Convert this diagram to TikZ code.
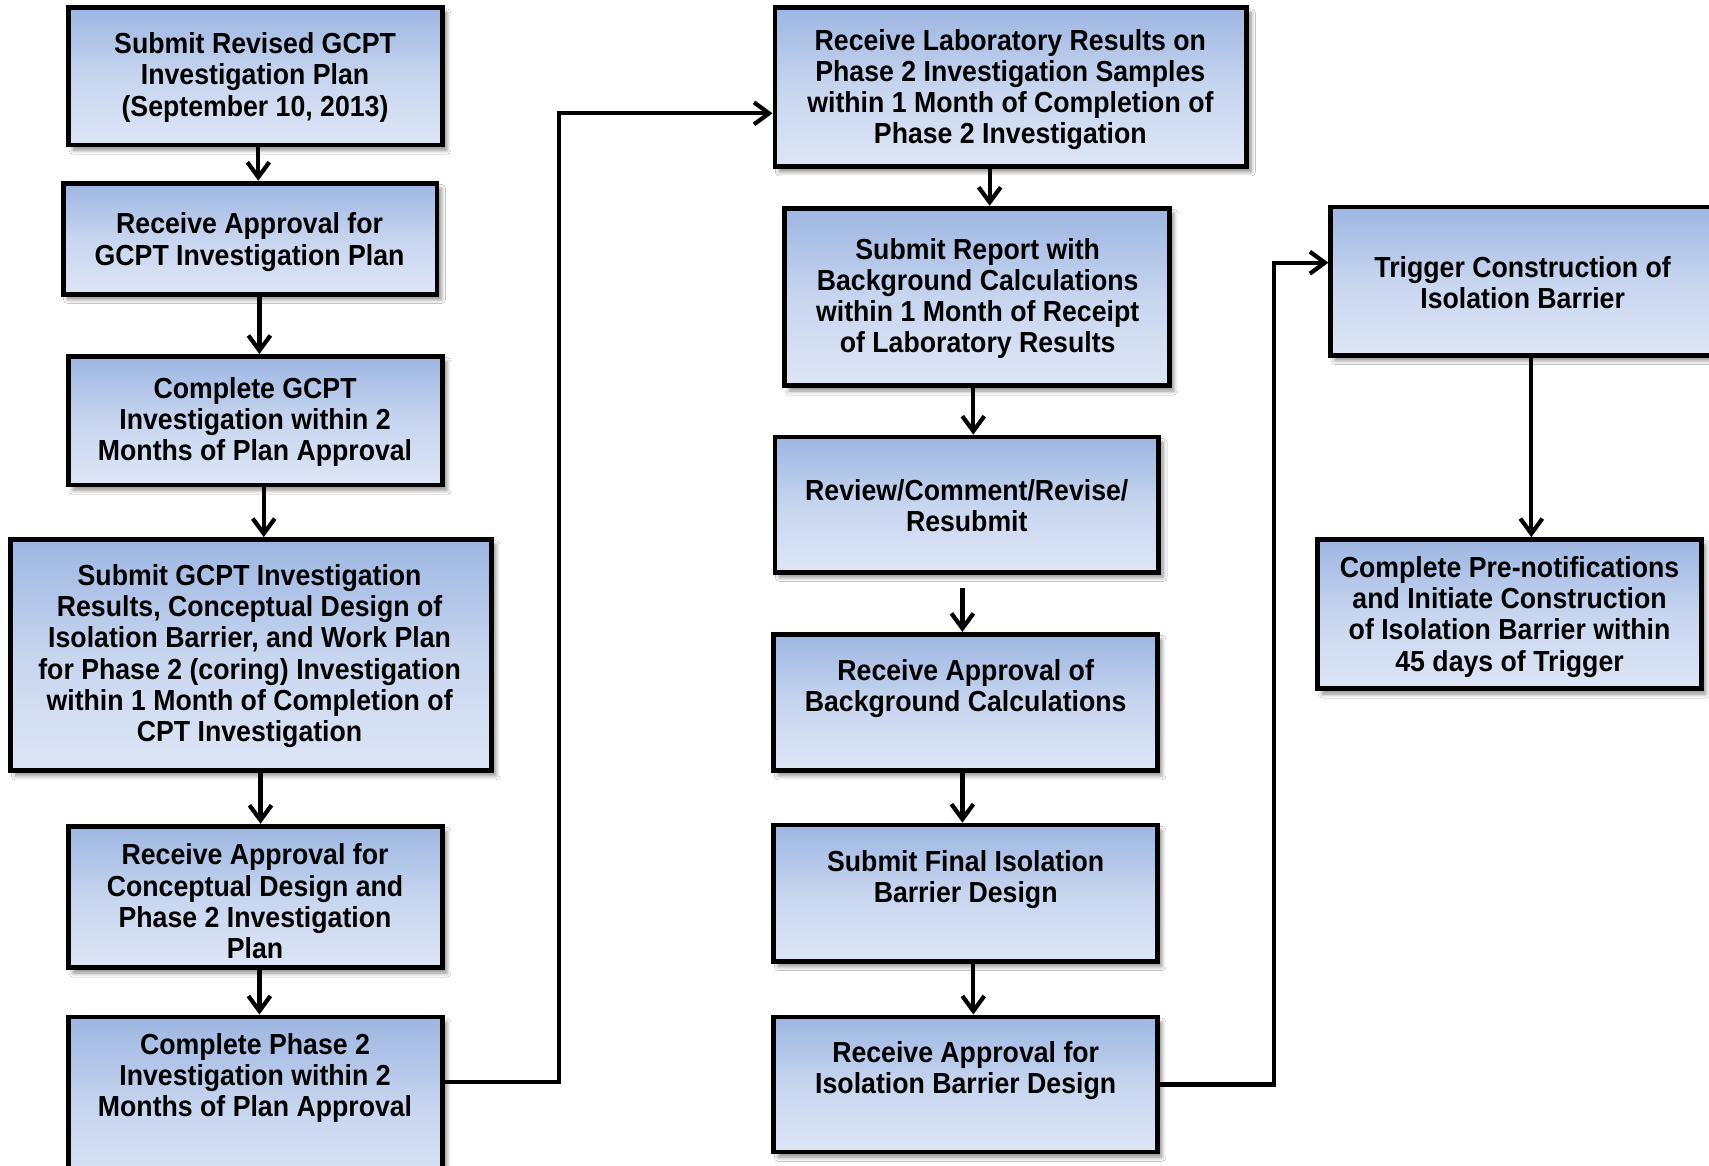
\documentclass[tikz,border=0pt]{standalone}
\usepackage{fontspec}
\newfontfamily\boxfont{Liberation Sans}[FakeStretch=0.92]
\usetikzlibrary{arrows.meta,shadows.blur}
\def\unitpx{0.545pt}
\definecolor{boxtop}{RGB}{157,182,226}
\definecolor{boxmid}{RGB}{199,213,239}
\definecolor{boxbot}{RGB}{222,230,245}
\begin{document}
\begin{tikzpicture}[x=0.545pt,y=-0.545pt,
  box/.style 2 args={draw=black, line width=2.4pt, rectangle, inner sep=0pt,
    minimum width=#1*\unitpx, minimum height=#2*\unitpx,
    top color=boxtop, bottom color=boxbot, middle color=boxmid,
    blur shadow={shadow xshift=2.2pt, shadow yshift=-2.6pt, shadow blur radius=2pt, shadow blur steps=6, shadow opacity=45}},
  txt/.style={align=center, inner sep=0pt, font=\boxfont\bfseries\fontsize{14.5}{15.6}\selectfont},
  arr/.style={line width=2.1pt, -{Straight Barb[length=7.5pt,width=11pt,line width=2.1pt]}}]
\clip (0,0) rectangle (1568,1069);
\fill[white] (0,0) rectangle (1568,1069);
% left column
\node[box={343}{126}] (b1) at (234.5,70) {};
\node[box={343}{102}] (b2) at (229.5,219) {};
\node[box={343}{118}] (b3) at (234.5,386) {};
\node[box={441}{212}] (b4) at (230.5,601) {};
\node[box={343}{130}] (b5) at (234.5,823) {};
\node[box={343}{167}] (b6) at (234.5,1016.5) {};
% middle column
\node[box={433}{146}] (m1) at (927.5,80) {};
\node[box={353}{163}] (m2) at (896.5,272.5) {};
\node[box={352}{124}] (m3) at (887,463) {};
\node[box={352}{125}] (m4) at (886,644.5) {};
\node[box={352}{125}] (m5) at (886,819.5) {};
\node[box={352}{124}] (m6) at (886,995) {};
% right column
\node[box={352}{136}] (r1) at (1397,258) {};
\node[box={352}{137}] (r2) at (1385,563.5) {};
% texts
\node[txt] (tb1) at (234,71) {Submit Revised GCPT\\Investigation Plan\\(September 10, 2013)};
\node[txt] (tb2) at (229,222) {Receive Approval for\\GCPT Investigation Plan};
\node[txt] (tb3) at (234,387) {Complete GCPT\\Investigation within 2\\Months of Plan Approval};
\node[txt] (tb4) at (229,602) {Submit GCPT Investigation\\Results, Conceptual Design of\\Isolation Barrier, and Work Plan\\for Phase 2 (coring) Investigation\\within 1 Month of Completion of\\CPT Investigation};
\node[txt] (tb5) at (234,827) {Receive Approval for\\Conceptual Design and\\Phase 2 Investigation\\Plan};
\node[txt] (tb6) at (234,989) {Complete Phase 2\\Investigation within 2\\Months of Plan Approval};
\node[txt] (tm1) at (927,82) {Receive Laboratory Results on\\Phase 2 Investigation Samples\\within 1 Month of Completion of\\Phase 2 Investigation};
\node[txt] (tm2) at (897,274) {Submit Report with\\Background Calculations\\within 1 Month of Receipt\\of Laboratory Results};
\node[txt] (tm3) at (887,464) {Review/Comment/Revise/\\Resubmit};
\node[txt] (tm4) at (886,632) {Receive Approval of\\Background Calculations};
\node[txt] (tm5) at (886,807) {Submit Final Isolation\\Barrier Design};
\node[txt] (tm6) at (886,982) {Receive Approval for\\Isolation Barrier Design};
\node[txt] (tr1) at (1397,259) {Trigger Construction of\\Isolation Barrier};
\node[txt] (tr2) at (1385,566) {Complete Pre-notifications\\and Initiate Construction\\of Isolation Barrier within\\45 days of Trigger};
% connectors
\draw[arr] ([xshift=2.5*\unitpx]b1.south) -- ([xshift=2.5*\unitpx]b1.south |- b2.north);
\draw[arr] ([xshift=8.5*\unitpx]b2.south) -- ([xshift=8.5*\unitpx]b2.south |- b3.north);
\draw[arr] ([xshift=7.5*\unitpx]b3.south) -- ([xshift=7.5*\unitpx]b3.south |- b4.north);
\draw[arr] ([xshift=8.5*\unitpx]b4.south) -- ([xshift=8.5*\unitpx]b4.south |- b5.north);
\draw[arr] ([xshift=3.5*\unitpx]b5.south) -- ([xshift=3.5*\unitpx]b5.south |- b6.north);
\coordinate (j1) at (513,104);
\draw[arr] ([yshift=23.5*\unitpx]b6.east) -| (j1) -- (j1 -| m1.west);
\draw[arr] ([xshift=-19.5*\unitpx]m1.south) -- ([xshift=-19.5*\unitpx]m1.south |- m2.north);
\draw[arr] ([xshift=-3.5*\unitpx]m2.south) -- ([xshift=-3.5*\unitpx]m2.south |- m3.north);
\draw[arr] ([xshift=-4*\unitpx,yshift=-12*\unitpx]m3.south) -- ([xshift=-4*\unitpx]m3.south |- m4.north);
\draw[arr] ([xshift=-3*\unitpx]m4.south) -- ([xshift=-3*\unitpx]m4.south |- m5.north);
\draw[arr] ([xshift=7*\unitpx]m5.south) -- ([xshift=7*\unitpx]m5.south |- m6.north);
\coordinate (j2) at (1169,241);
\draw[arr] (m6.east) -| (j2) -- (j2 -| r1.west);
\draw[arr] ([xshift=8*\unitpx]r1.south) -- ([xshift=8*\unitpx]r1.south |- r2.north);
\end{tikzpicture}
\end{document}
